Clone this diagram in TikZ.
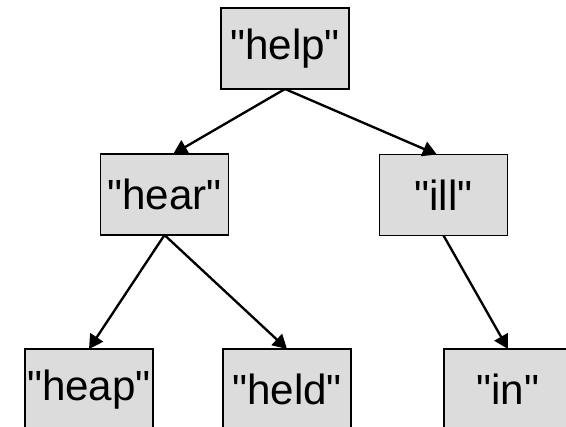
\documentclass[tikz,border=0pt]{standalone}
\usepackage{fontspec}
\newfontfamily\wordfont{Liberation Sans}
\usetikzlibrary{arrows.meta}
\definecolor{boxgray}{RGB}{220,220,220}

\begin{document}
\begin{tikzpicture}[x=0.03cm,y=-0.03cm]
  \tikzset{
    word/.style={draw,line width=1.5pt,fill=boxgray,inner sep=0pt,outer sep=0pt,
      minimum width=3.84cm,minimum height=2.43cm,
      font=\wordfont\fontsize{36}{40}\selectfont},
    link/.style={line width=2pt,-{Triangle[length=12pt,width=13pt]}}
  }
  \clip (0,0) rectangle (566,427);
  % tree of words
  \node[word] (help) at (285,48.5) {"help"};
  \node[word] (hear) at (164.5,194.5) {"hear"};
  \node[word] (ill)  at (443.5,195) {"ill"};
  \node[word] (heap) at (89,389.5) {"heap"};
  \node[word] (held) at (287,389.5) {"held"};
  \node[word] (in)   at (508,389.5) {"in"};
  % links
  \draw[link] (help.south) -- ([xshift=0.26cm]hear.north);
  \draw[link] (help.south) -- ([xshift=-0.2cm]ill.north);
  \draw[link] (hear.south) -- (heap.north);
  \draw[link] (hear.south) -- (held.north);
  \draw[link] (ill.south) -- (in.north);
\end{tikzpicture}
\end{document}
